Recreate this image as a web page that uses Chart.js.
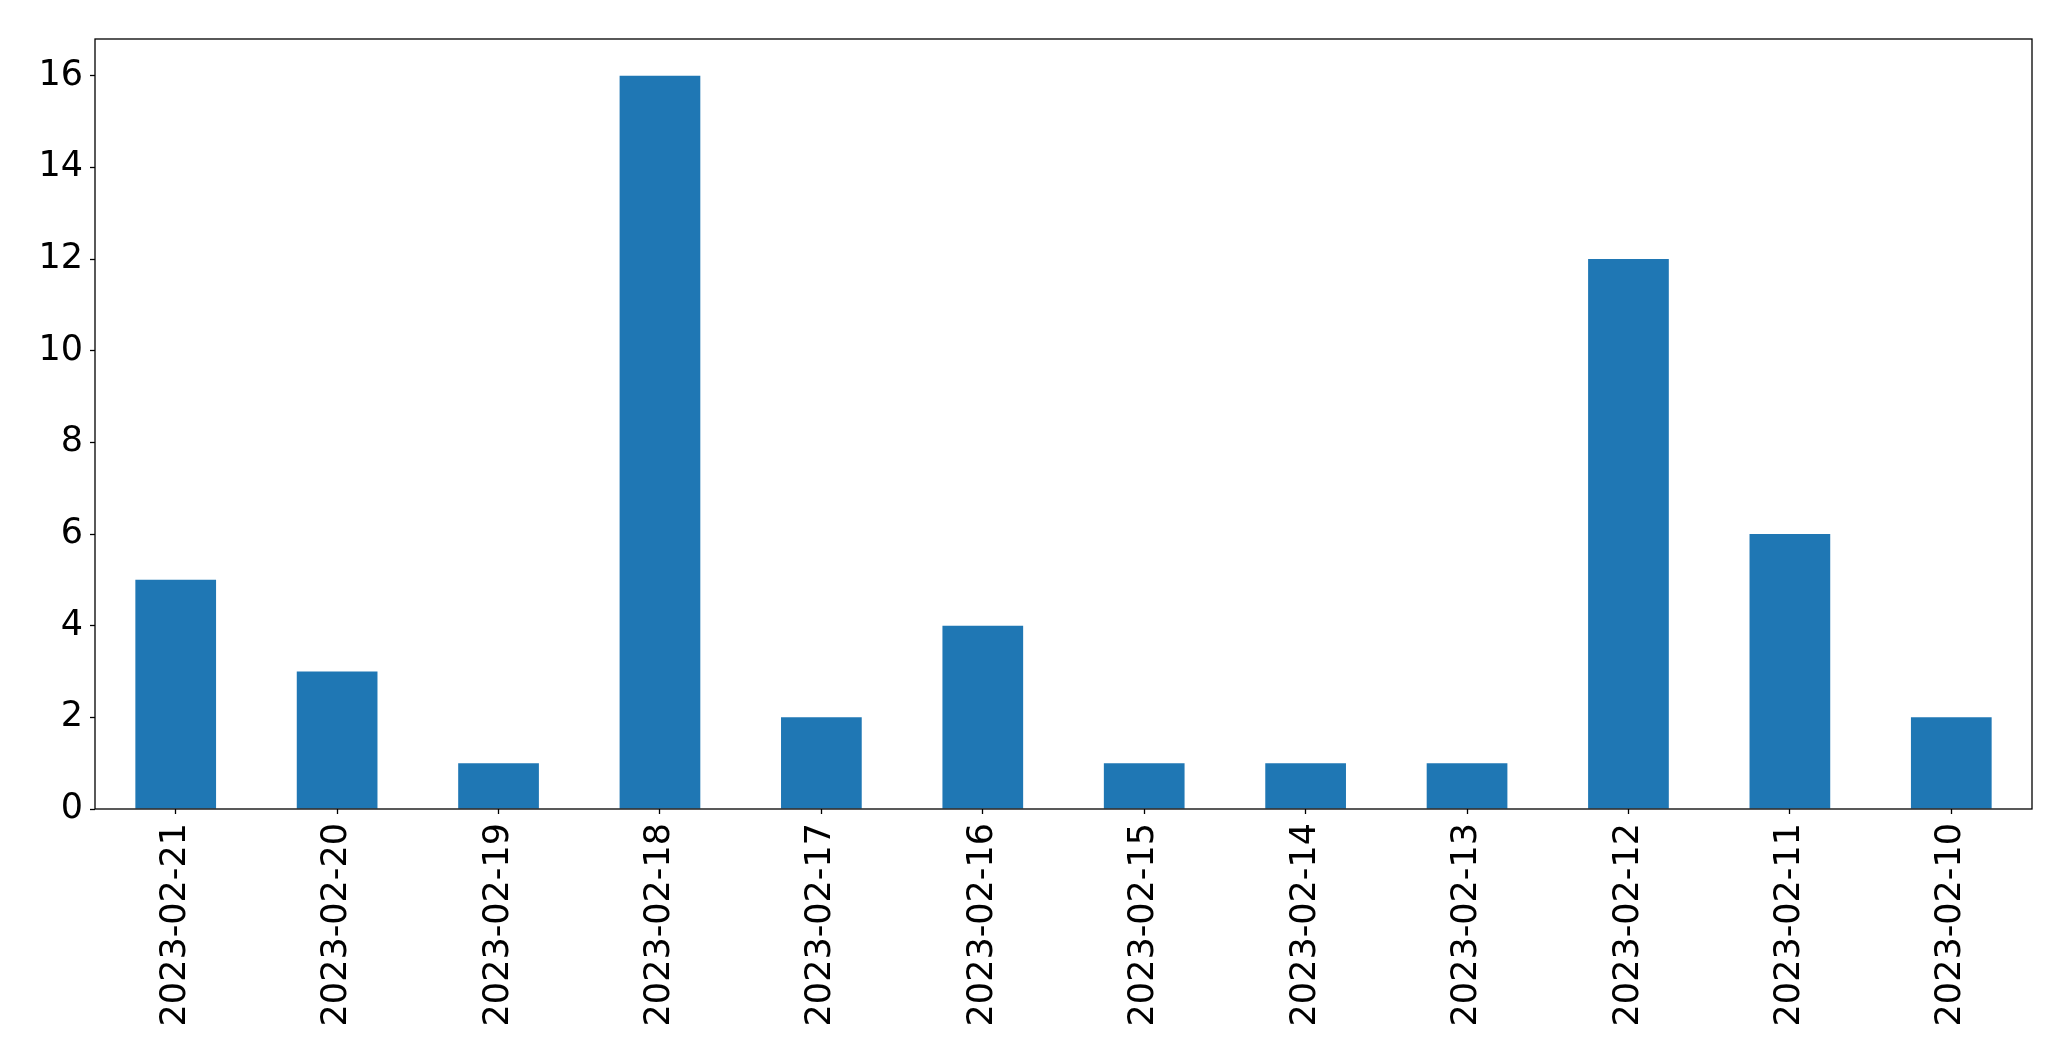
<!DOCTYPE html>
<html>
<head>
<meta charset="utf-8">
<script src="https://cdn.jsdelivr.net/npm/chart.js@4/dist/chart.umd.min.js"></script>
<style>
    html, body { margin: 0; padding: 0; background: #fff; }
    #wrap { width: 2071px; height: 1061px; }
</style>
</head>
<body>
<div id="wrap"><canvas id="dayChart" width="2071" height="1061"></canvas></div>
<script>
// ── Data ──
const days = ['2023-02-21', '2023-02-20', '2023-02-19', '2023-02-18', '2023-02-17', '2023-02-16',
              '2023-02-15', '2023-02-14', '2023-02-13', '2023-02-12', '2023-02-11', '2023-02-10'];
const counts = [5, 3, 1, 16, 2, 4, 1, 1, 1, 12, 6, 2];
const yTicks = [0, 2, 4, 6, 8, 10, 12, 14, 16];

const barColor = '#1f77b4';
const fontFamily = '"DejaVu Sans", sans-serif';

// matplotlib-style frame round the plot area
const frameBox = {
    id: 'frameBox',
    afterDraw(chart) {
        const { ctx, chartArea: a } = chart;
        ctx.save();
        ctx.strokeStyle = '#000';
        ctx.lineWidth = 1.3;
        ctx.strokeRect(a.left, a.top, a.right - a.left, a.bottom - a.top);
        ctx.restore();
    }
};

new Chart(document.getElementById('dayChart'), {
    type: 'bar',
    data: {
        labels: days,
        datasets: [{
            data: counts,
            backgroundColor: barColor,
            borderWidth: 0,
            barPercentage: 0.5,
            categoryPercentage: 1.0,
        }]
    },
    options: {
        responsive: false,
        animation: false,
        layout: { padding: { top: 39, right: 39, left: 0, bottom: 0 } },
        plugins: {
            legend: { display: false },
            tooltip: { enabled: false }
        },
        scales: {
            x: {
                grid: { offset: false, drawOnChartArea: false, tickLength: 5, color: '#000', tickWidth: 1.3 },
                border: { display: false },
                ticks: {
                    font: { family: fontFamily, size: 35 }, color: '#000',
                    minRotation: 90, maxRotation: 90, padding: 9, autoSkip: false
                },
                afterFit: s => { s.height = 252; }
            },
            y: {
                min: 0, max: 16.8,
                afterBuildTicks: s => { s.ticks = yTicks.map(v => ({ value: v })); },
                grid: { drawOnChartArea: false, tickLength: 5, color: '#000', tickWidth: 1.3 },
                border: { display: false },
                ticks: { font: { family: fontFamily, size: 35 }, color: '#000', padding: 7 },
                afterFit: s => { s.width = 95; }
            }
        }
    },
    plugins: [frameBox]
});
</script>
</body>
</html>
